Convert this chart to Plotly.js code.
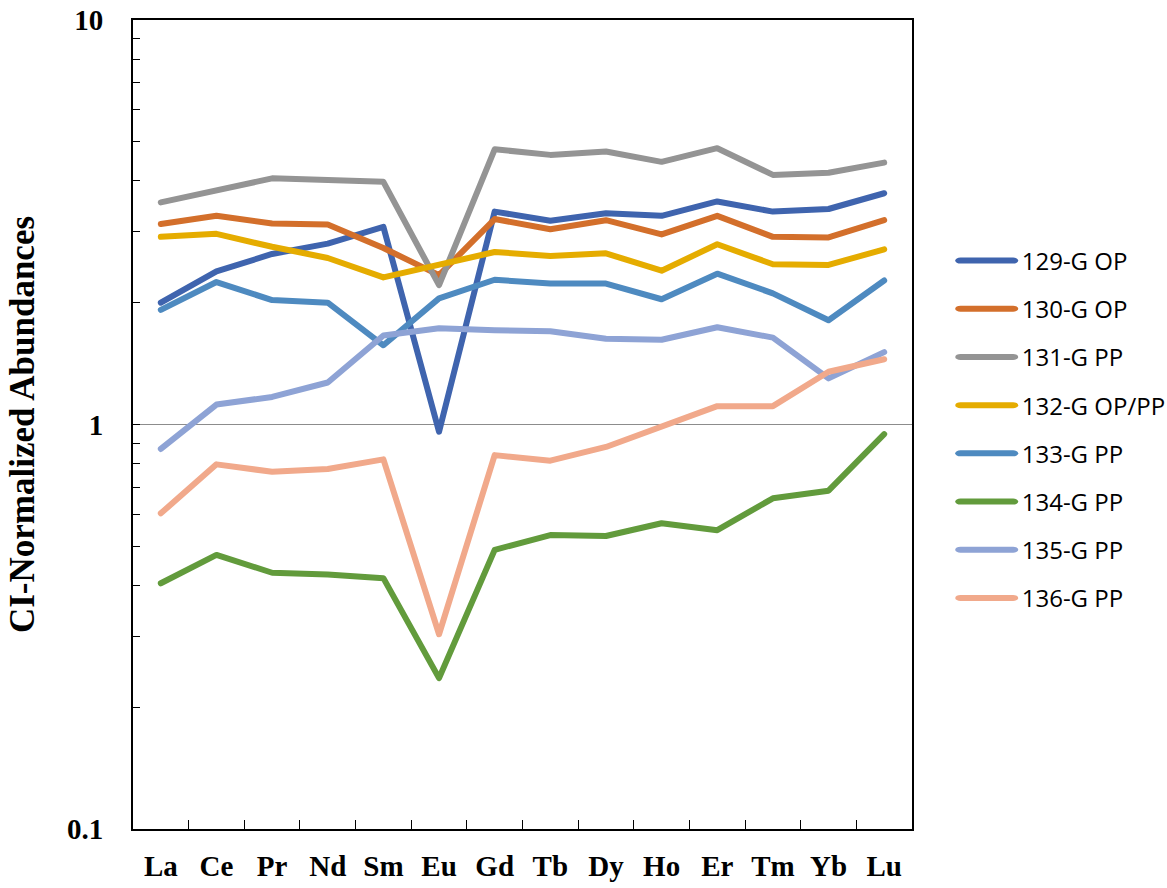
<!DOCTYPE html>
<html>
<head>
<meta charset="utf-8">
<script src="https://cdn.plot.ly/plotly-3.0.1.min.js"></script>
<style>
  html, body { margin: 0; padding: 0; background: #fff; }
  #chart { width: 1167px; height: 888px; }
  .js-line { stroke-linejoin: round !important; stroke-linecap: round !important; }
  .legendlines path { stroke-linecap: round !important; transform: scaleX(1.75); }
  .legendtext { transform: translateX(30px); }
  .legend .scrollbox { clip-path: none !important; }
</style>
</head>
<body>
<div id="chart"></div>
<script>
const elements = ["La", "Ce", "Pr", "Nd", "Sm", "Eu", "Gd", "Tb", "Dy", "Ho", "Er", "Tm", "Yb", "Lu"];

const s129 = [2.00, 2.39, 2.64, 2.80, 3.08, 0.96, 3.36, 3.19, 3.33, 3.28, 3.56, 3.36, 3.41, 3.73];
const s130 = [3.13, 3.28, 3.14, 3.12, 2.73, 2.34, 3.22, 3.04, 3.20, 2.95, 3.28, 2.91, 2.90, 3.20];
const s131 = [3.54, 3.80, 4.06, 4.02, 3.98, 2.21, 4.79, 4.64, 4.73, 4.46, 4.82, 4.14, 4.19, 4.44];
const s132 = [2.91, 2.96, 2.75, 2.58, 2.31, 2.48, 2.67, 2.61, 2.65, 2.40, 2.79, 2.49, 2.48, 2.71];
const s133 = [1.92, 2.25, 2.03, 2.00, 1.57, 2.05, 2.28, 2.23, 2.23, 2.04, 2.36, 2.11, 1.81, 2.27];
const s134 = [0.405, 0.476, 0.430, 0.426, 0.417, 0.236, 0.490, 0.533, 0.530, 0.570, 0.548, 0.657, 0.686, 0.947];
const s135 = [0.87, 1.12, 1.17, 1.27, 1.66, 1.73, 1.71, 1.70, 1.63, 1.62, 1.74, 1.64, 1.30, 1.51];
const s136 = [0.603, 0.797, 0.764, 0.776, 0.82, 0.303, 0.84, 0.814, 0.88, 0.984, 1.11, 1.11, 1.35, 1.45];

const seriesNames = ["129-G OP", "130-G OP", "131-G PP", "132-G OP/PP", "133-G PP", "134-G PP", "135-G PP", "136-G PP"];
const seriesValues = [s129, s130, s131, s132, s133, s134, s135, s136];
const seriesColors = ["#3F64AE", "#D36F2B", "#949494", "#E5AC00", "#4E8AC0", "#629B3C", "#8EA3D5", "#F1A98B"];

const yTickVals = [0.1, 1, 10];
const yTickText = ["0.1", "1", "10"];
const yMinorVals = [0.2, 0.3, 0.4, 0.5, 0.6, 0.7, 0.8, 0.9, 2, 3, 4, 5, 6, 7, 8, 9];

const traces = seriesNames.map((name, i) => ({
  type: "scatter",
  mode: "lines",
  name: name,
  x: elements,
  y: seriesValues[i],
  legendgroup: "g" + i,
  line: { color: seriesColors[i], width: 6 },
  hoverinfo: "x+y+name"
}));

const serif = "'Liberation Serif', 'Times New Roman', serif";

const layout = {
  width: 1167,
  height: 888,
  paper_bgcolor: "#ffffff",
  plot_bgcolor: "#ffffff",
  margin: { l: 133, r: 255, t: 20, b: 59, pad: 0 },
  showlegend: true,
  legend: {
    x: 1.051, xanchor: "left",
    y: 0.73, yanchor: "top",
    font: { family: "'Open Sans', 'Noto Sans', sans-serif", size: 24, color: "#000" },
    tracegroupgap: 14,
    bgcolor: "rgba(0,0,0,0)",
    borderwidth: 0
  },
  xaxis: {
    type: "category",
    categoryorder: "array",
    categoryarray: elements,
    range: [-0.5, 13.5],
    showline: true, linecolor: "#000", linewidth: 2, mirror: true,
    ticks: "inside", ticklen: 9, tickwidth: 1, tickcolor: "#000",
    tickson: "boundaries",
    showgrid: false, zeroline: false,
    tickfont: { family: serif, size: 29, color: "#000", weight: "bold" },
    ticklabelstandoff: 10
  },
  yaxis: {
    type: "log",
    range: [-1, 1],
    tickmode: "array",
    tickvals: yTickVals,
    ticktext: yTickText,
    showline: true, linecolor: "#000", linewidth: 2, mirror: true,
    ticks: "inside", ticklen: 7, tickwidth: 1, tickcolor: "#000",
    minor: { tickmode: "array", tickvals: yMinorVals, ticks: "inside", ticklen: 7, tickwidth: 1, tickcolor: "#000", showgrid: false },
    showgrid: true, gridcolor: "#8c8c8c", gridwidth: 1,
    zeroline: false,
    tickfont: { family: serif, size: 29, color: "#000", weight: "bold" },
    ticklabelstandoff: 22,
    title: {
      text: "CI-Normalized Abundances",
      font: { family: serif, size: 35, color: "#000", weight: "bold" },
      standoff: 22
    }
  },
  font: { family: serif, color: "#000" }
};

Plotly.newPlot("chart", traces, layout, { displayModeBar: false, staticPlot: true });
</script>
</body>
</html>
